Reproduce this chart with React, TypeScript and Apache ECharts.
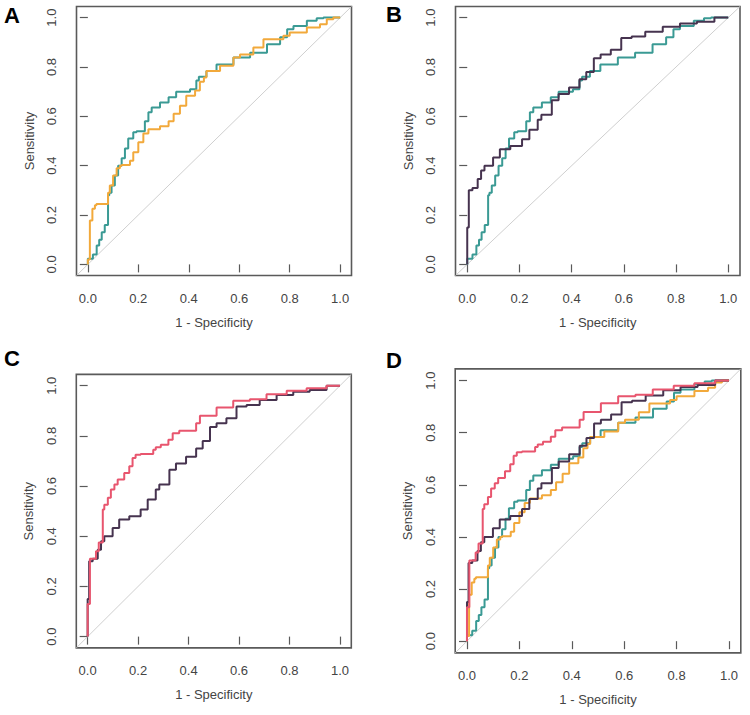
import React, { useEffect, useRef } from "react";
import * as echarts from "echarts";

// Tick values / labels
const tickValues = [0, 0.2, 0.4, 0.6, 0.8, 1.0];
const tickLabels = ["0.0", "0.2", "0.4", "0.6", "0.8", "1.0"];

// ROC curves: [1 - specificity, sensitivity]
const tealCurve: number[][] = [
  [0, 0], [0.02, 0.023], [0.035, 0.04], [0.045, 0.077], [0.055, 0.1], [0.067, 0.13],
  [0.08, 0.16], [0.085, 0.28], [0.094, 0.29], [0.107, 0.32], [0.12, 0.36], [0.134, 0.4],
  [0.147, 0.43], [0.16, 0.47], [0.18, 0.51], [0.193, 0.535], [0.226, 0.54], [0.24, 0.58],
  [0.253, 0.616], [0.286, 0.636], [0.32, 0.656], [0.35, 0.677], [0.405, 0.7], [0.43, 0.71],
  [0.44, 0.745], [0.47, 0.76], [0.51, 0.784], [0.577, 0.81], [0.643, 0.838], [0.71, 0.858],
  [0.762, 0.892], [0.79, 0.92], [0.815, 0.953], [0.868, 0.966], [0.907, 0.987],
  [0.934, 0.997], [1, 1],
];
const orangeCurve: number[][] = [
  [0, 0], [0.008, 0.02], [0.008, 0.164], [0.018, 0.178], [0.028, 0.225], [0.034, 0.24],
  [0.08, 0.245], [0.087, 0.29], [0.1, 0.32], [0.114, 0.36], [0.127, 0.39], [0.134, 0.4],
  [0.167, 0.403], [0.18, 0.42], [0.2, 0.454], [0.22, 0.495], [0.24, 0.53], [0.286, 0.548],
  [0.32, 0.56], [0.34, 0.58], [0.365, 0.61], [0.39, 0.643], [0.425, 0.683], [0.444, 0.705],
  [0.46, 0.74], [0.47, 0.757], [0.524, 0.784], [0.577, 0.805], [0.603, 0.838], [0.656, 0.85],
  [0.696, 0.879], [0.709, 0.912], [0.775, 0.912], [0.8, 0.926], [0.868, 0.94], [0.92, 0.96],
  [0.947, 0.973], [0.973, 0.993], [1, 1],
];
const purpleCurve: number[][] = [
  [0, 0], [0, 0.136], [0.006, 0.15], [0.006, 0.29], [0.02, 0.3], [0.04, 0.31], [0.053, 0.346],
  [0.066, 0.38], [0.099, 0.4], [0.125, 0.433], [0.165, 0.467], [0.21, 0.48], [0.238, 0.507],
  [0.27, 0.546], [0.284, 0.586], [0.324, 0.606], [0.35, 0.665], [0.39, 0.69], [0.43, 0.717],
  [0.456, 0.75], [0.485, 0.78], [0.511, 0.835], [0.55, 0.85], [0.59, 0.87], [0.63, 0.917],
  [0.682, 0.923], [0.749, 0.943], [0.815, 0.963], [0.88, 0.976], [0.947, 0.983], [1, 1],
];
const pinkCurve: number[][] = [
  [0, 0], [0, 0.13], [0.009, 0.13], [0.009, 0.295], [0.033, 0.31], [0.044, 0.34],
  [0.049, 0.375], [0.06, 0.375], [0.066, 0.507], [0.08, 0.526], [0.092, 0.553],
  [0.106, 0.586], [0.119, 0.606], [0.145, 0.626], [0.165, 0.652], [0.178, 0.679],
  [0.19, 0.712], [0.21, 0.725], [0.26, 0.728], [0.27, 0.745], [0.29, 0.755], [0.32, 0.765],
  [0.337, 0.785], [0.363, 0.81], [0.43, 0.82], [0.445, 0.85], [0.511, 0.88], [0.577, 0.913],
  [0.643, 0.94], [0.709, 0.946], [0.789, 0.966], [0.868, 0.98], [0.947, 0.99], [1, 1],
];

const curveData: Record<string, number[][]> = {
  teal: tealCurve,
  orange: orangeCurve,
  purple: purpleCurve,
  pink: pinkCurve,
};
const curveColors: Record<string, string> = {
  teal: "#3a9a94",
  orange: "#f2a93b",
  purple: "#46334f",
  pink: "#e8556e",
};

const panelLetters = ["A", "B", "C", "D"];
const panelCurves = [
  ["teal", "orange"],
  ["teal", "purple"],
  ["purple", "pink"],
  ["teal", "orange", "purple", "pink"],
];

// layout (pixels)
const gridBoxes = [
  { left: 76.5, top: 6.5, width: 275, height: 269 },
  { left: 455.5, top: 6.5, width: 284.5, height: 269 },
  { left: 76.3, top: 374.4, width: 275, height: 273.5 },
  { left: 455.2, top: 368.9, width: 285.6, height: 284 },
];
const letterPos = [
  { x: 4, y: 4 },
  { x: 386, y: 3 },
  { x: 4, y: 347 },
  { x: 386, y: 349 },
];
const EXT = 0.045;

export default function App() {
  const ref = useRef<HTMLDivElement>(null);
  useEffect(() => {
    if (!ref.current) return;
    const chart = echarts.init(ref.current, undefined, { renderer: "svg" });
    const font = "'Liberation Sans', Arial, Helvetica, sans-serif";
    const grids = gridBoxes.map((g) => ({
      left: g.left,
      top: g.top,
      width: g.width,
      height: g.height,
      show: true,
      borderColor: "#5a5a5a",
      borderWidth: 1.6,
      backgroundColor: "transparent",
      containLabel: false,
    }));
    const fmt = (v: number) => {
      const i = tickValues.findIndex((t) => Math.abs(t - v) < 1e-6);
      return i >= 0 ? tickLabels[i] : "";
    };
    const xAxes = gridBoxes.map((_, i) => ({
      type: "value",
      gridIndex: i,
      min: -EXT,
      max: 1 + EXT,
      name: "1 - Specificity",
      nameLocation: "middle",
      nameGap: 40,
      nameTextStyle: { fontFamily: font, fontSize: 13, color: "#444" },
      axisLine: { show: false },
      axisTick: {
        show: true,
        length: 8,
        customValues: tickValues,
        lineStyle: { color: "#5a5a5a", width: 1.2 },
      },
      axisLabel: {
        customValues: tickValues,
        formatter: fmt,
        fontFamily: font,
        fontSize: 13,
        color: "#444",
        margin: 16,
      },
      splitLine: { show: false },
    }));
    const yAxes = gridBoxes.map((_, i) => ({
      type: "value",
      gridIndex: i,
      min: -EXT,
      max: 1 + EXT,
      name: "Sensitivity",
      nameLocation: "middle",
      nameGap: 41,
      nameTextStyle: { fontFamily: font, fontSize: 13, color: "#444" },
      axisLine: { show: false },
      axisTick: {
        show: true,
        length: 8,
        customValues: tickValues,
        lineStyle: { color: "#5a5a5a", width: 1.2 },
      },
      axisLabel: {
        customValues: tickValues,
        formatter: fmt,
        rotate: 90,
        fontFamily: font,
        fontSize: 13,
        color: "#444",
        margin: 18.5,
      },
      splitLine: { show: false },
    }));
    const series: any[] = [];
    gridBoxes.forEach((_, i) => {
      series.push({
        type: "line",
        xAxisIndex: i,
        yAxisIndex: i,
        data: [
          [-EXT, -EXT],
          [1 + EXT, 1 + EXT],
        ],
        symbol: "none",
        silent: true,
        lineStyle: { color: "#cfcfcf", width: 1 },
      });
      panelCurves[i].forEach((c) => {
        series.push({
          type: "line",
          name: c,
          xAxisIndex: i,
          yAxisIndex: i,
          data: curveData[c],
          step: "start",
          symbol: "none",
          silent: true,
          lineStyle: { color: curveColors[c], width: 2 },
        });
      });
    });
    const graphic = panelLetters.map((l, i) => ({
      type: "text",
      x: letterPos[i].x,
      y: letterPos[i].y,
      style: {
        text: l,
        fontFamily: font,
        fontWeight: "bold",
        fontSize: 22,
        fill: "#000",
      },
    }));
    chart.setOption({
      animation: false,
      backgroundColor: "#fff",
      grid: grids,
      xAxis: xAxes,
      yAxis: yAxes,
      series,
      graphic,
    });
    return () => chart.dispose();
  }, []);
  return (
    <div
      ref={ref}
      style={{ position: "absolute", left: 0, top: 0, width: 750, height: 715 }}
    />
  );
}
